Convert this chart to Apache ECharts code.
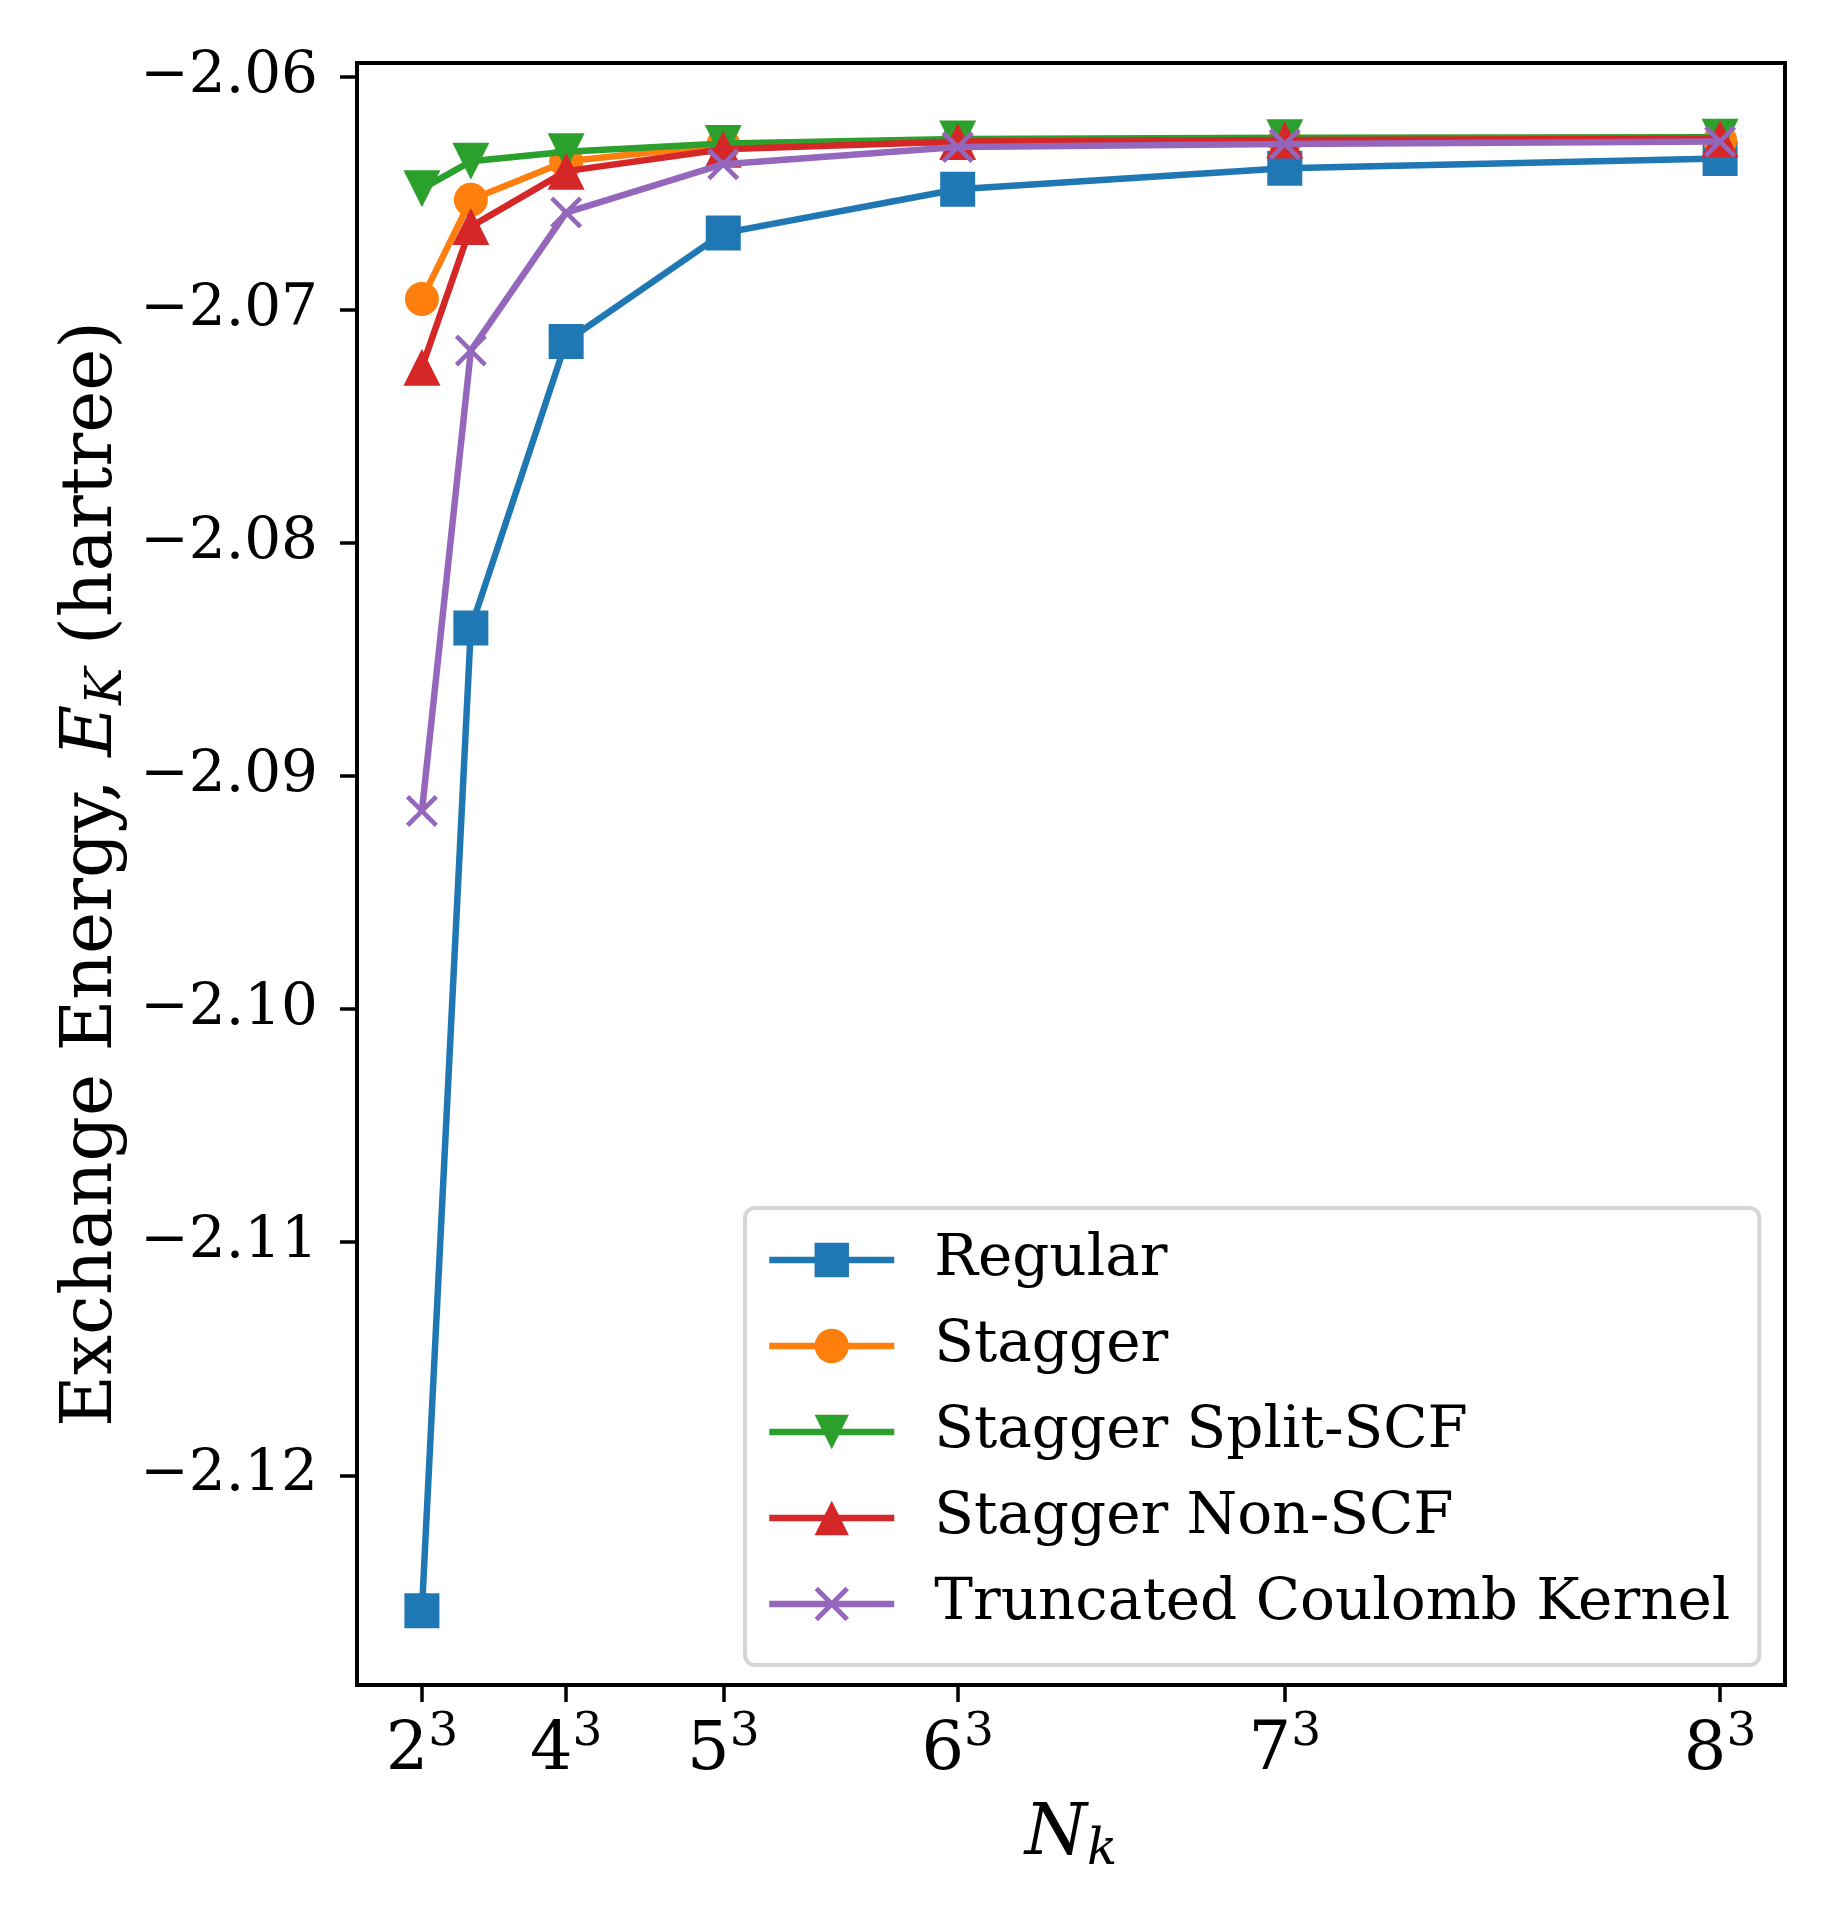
<!DOCTYPE html>
<html>
<head>
<meta charset="utf-8">
<title>Exchange energy convergence</title>
<script src="https://cdn.jsdelivr.net/npm/echarts@6.0.0/dist/echarts.min.js"></script>
<style>
  html, body { margin: 0; padding: 0; background: #fff; }
  #chart { width: 1837px; height: 1925px; }
</style>
</head>
<body>
<div id="chart"></div>
<script>
'use strict';

// k-point counts N_k = n^3
var nk = [8, 27, 64, 125, 216, 343, 512];
var xTicks = [8, 64, 125, 216, 343, 512];
var xTickBases = ['2', '4', '5', '6', '7', '8'];
var yTicks = [-2.12, -2.11, -2.10, -2.09, -2.08, -2.07, -2.06];

// exchange energy (hartree)
var regular = [-2.12581, -2.08364, -2.07135, -2.06670, -2.06482, -2.06392, -2.06350];
var stagger = [-2.06953, -2.06527, -2.06362, -2.06292, -2.06280, -2.06274, -2.06272];
var splitScf = [-2.06480, -2.06362, -2.06321, -2.06285, -2.06266, -2.06261, -2.06259];
var nonScf = [-2.07246, -2.06642, -2.06404, -2.06310, -2.06277, -2.06270, -2.06265];
var truncated = [-2.09150, -2.07174, -2.06582, -2.06374, -2.06300, -2.06288, -2.06277];

var FONT = 'DejaVu Serif';
var LINE_W = 6.5;
var xMark = 'path://M0.87,3.13L3.13,0.87L12,9.74L20.87,0.87L23.13,3.13L14.26,12L23.13,20.87L20.87,23.13L12,14.26L3.13,23.13L0.87,20.87L9.74,12Z';

function pairs(ys) {
  return nk.map(function (x, i) { return [x, ys[i]]; });
}

function makeSeries(name, ys, color, symbol, size, rotate, z) {
  return {
    name: name,
    type: 'line',
    data: pairs(ys),
    z: z,
    symbol: symbol,
    symbolSize: size,
    symbolRotate: rotate,
    showAllSymbol: true,
    lineStyle: { color: color, width: LINE_W },
    itemStyle: { color: color },
    emphasis: { disabled: true }
  };
}

var chart = echarts.init(document.getElementById('chart'));

chart.setOption({
  animation: false,
  backgroundColor: '#fff',
  grid: {
    left: 357, top: 63, right: 52, bottom: 240,
    show: true, borderColor: '#000', borderWidth: 4,
    containLabel: false, outerBoundsMode: 'none'
  },
  xAxis: {
    type: 'value',
    min: -17.2, max: 537.2,
    name: '{n|N}{k|k}',
    nameLocation: 'middle',
    nameGap: 111,
    nameMoveOverlap: false,
    nameTextStyle: {
      rich: {
        n: { fontFamily: FONT, fontStyle: 'italic', fontSize: 71, lineHeight: 80, color: '#000' },
        k: { fontFamily: FONT, fontStyle: 'italic', fontSize: 50, lineHeight: 50, verticalAlign: 'bottom', color: '#000' }
      }
    },
    axisLine: { show: true, onZero: false, lineStyle: { color: '#000', width: 4 } },
    axisTick: { show: true, inside: false, length: 17, lineStyle: { color: '#000', width: 3.5 }, customValues: xTicks },
    axisLabel: {
      customValues: xTicks,
      margin: 24,
      formatter: function (v) {
        var i = xTicks.indexOf(v);
        return '{b|' + xTickBases[i] + '}{s|3}';
      },
      rich: {
        b: { fontFamily: FONT, fontSize: 67, lineHeight: 76, verticalAlign: 'bottom', color: '#000' },
        s: { fontFamily: FONT, fontSize: 47, lineHeight: 47, verticalAlign: 'top', color: '#000' }
      }
    },
    splitLine: { show: false }
  },
  yAxis: {
    type: 'value',
    min: -2.1290, max: -2.0594,
    name: '{t|Exchange Energy, }{e|E}{s|K}{t| (hartree)}',
    nameLocation: 'middle',
    nameRotate: 90,
    nameGap: 224,
    nameMoveOverlap: false,
    nameTextStyle: {
      rich: {
        t: { fontFamily: FONT, fontSize: 71, lineHeight: 80, color: '#000' },
        e: { fontFamily: FONT, fontStyle: 'italic', fontSize: 71, lineHeight: 80, color: '#000' },
        s: { fontFamily: FONT, fontStyle: 'italic', fontSize: 50, lineHeight: 50, verticalAlign: 'bottom', color: '#000' }
      }
    },
    axisLine: { show: true, onZero: false, lineStyle: { color: '#000', width: 4 } },
    axisTick: { show: true, inside: false, length: 17, lineStyle: { color: '#000', width: 3.5 }, customValues: yTicks },
    axisLabel: {
      customValues: yTicks,
      margin: 39,
      fontFamily: FONT,
      fontSize: 58,
      color: '#000',
      formatter: function (v) { return '\u2212' + Math.abs(v).toFixed(2); }
    },
    splitLine: { show: false }
  },
  legend: {
    orient: 'vertical',
    left: 745,
    top: 1208,
    padding: [23, 29, 32, 21],
    itemWidth: 125,
    itemHeight: 43,
    itemGap: 28,
    backgroundColor: '#fff',
    borderColor: '#d6d6d6',
    borderWidth: 4,
    borderRadius: 10,
    lineStyle: { width: LINE_W },
    textStyle: { fontFamily: FONT, fontSize: 58, lineHeight: 50, color: '#000', padding: [0, 0, 0, 35] },
    data: ['Regular', 'Stagger', 'Stagger Split-SCF', 'Stagger Non-SCF', 'Truncated Coulomb Kernel']
  },
  series: [
    makeSeries('Regular', regular, '#1f77b4', 'rect', 35, 0, 2),
    makeSeries('Stagger', stagger, '#ff7f0e', 'circle', 34, 0, 3),
    makeSeries('Stagger Split-SCF', splitScf, '#2ca02c', 'triangle', 37, 180, 4),
    makeSeries('Stagger Non-SCF', nonScf, '#d62728', 'triangle', 37, 0, 5),
    makeSeries('Truncated Coulomb Kernel', truncated, '#9467bd', xMark, 32, 0, 6)
  ]
});
</script>
</body>
</html>
